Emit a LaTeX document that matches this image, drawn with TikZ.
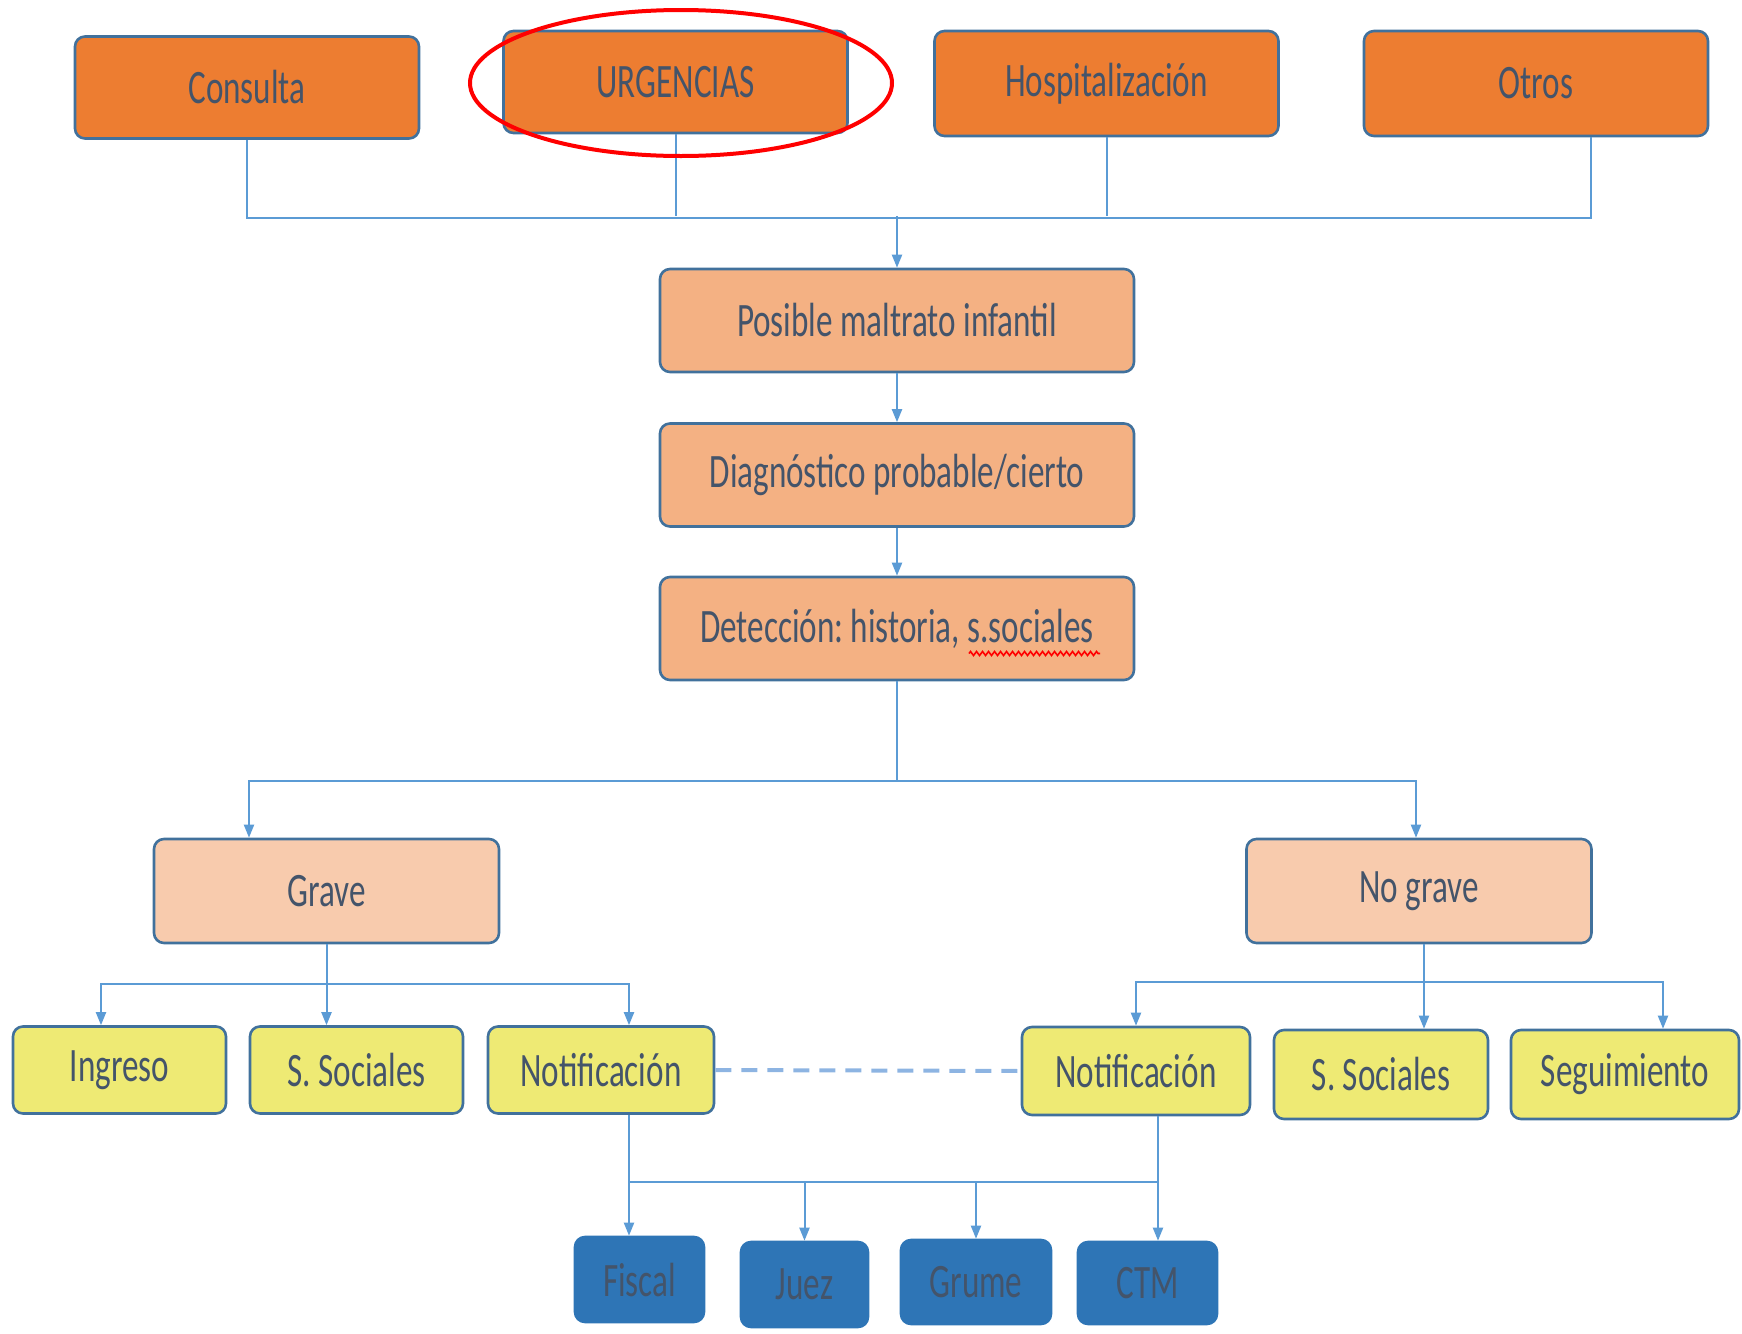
\documentclass[tikz,border=0pt]{standalone}
\usepackage{fontspec}
\setmainfont{Carlito}[FakeStretch=0.69]
\frenchspacing
\usetikzlibrary{arrows.meta,calc,decorations.pathmorphing}
\definecolor{orangeA}{HTML}{ED7D31}
\definecolor{orangeB}{HTML}{F4B183}
\definecolor{peach}{HTML}{F8CBAD}
\definecolor{yell}{HTML}{EEEA74}
\definecolor{blueA}{HTML}{2E75B6}
\definecolor{bord}{HTML}{41719C}
\definecolor{txt}{HTML}{44546A}
\definecolor{linec}{HTML}{5B9BD5}
\definecolor{dashc}{HTML}{8DB4E2}
\begin{document}
\begin{tikzpicture}[x=0.5pt,y=-0.5pt,
  box/.style={draw=bord, line width=1.3pt, rounded corners=5pt, inner sep=0pt,
    text=txt, font=\fontsize{24}{28}\selectfont},
  topbox/.style={box, fill=orangeA, minimum width=172pt, minimum height=51pt},
  midbox/.style={box, fill=orangeB, minimum width=237pt, minimum height=51.5pt},
  sevbox/.style={box, fill=peach, minimum width=172.5pt, minimum height=52pt},
  ybox/.style={box, fill=yell, minimum height=43.5pt},
  bbox/.style={box, fill=blueA, draw=blueA, minimum height=42pt},
  conn/.style={draw=linec, line width=1pt},
  arr/.style={conn, -{Triangle[length=6.5pt,width=5pt]}},
  dashline/.style={draw=dashc, line width=2pt, dash pattern=on 8pt off 5pt}]
\useasboundingbox (0,0) rectangle (1742,1334);
% top row
\node[topbox] (cons) at (247,87.5) {Consulta};
\node[topbox] (urg) at (675.5,82) {URGENCIAS};
\node[topbox, minimum height=52.5pt] (hosp) at (1106.5,83.5) {Hospitalización};
\node[topbox, minimum height=52.5pt] (otros) at (1536,83.5) {Otros};
% middle
\node[midbox] (pos) at (897,320.5) {Posible maltrato infantil};
\node[midbox] (diag) at (897,475) {Diagnóstico probable/cierto};
\node[midbox] (det) at (897,628.5) {Detección: historia, s.sociales};
% severity
\node[sevbox] (grave) at (326.5,891) {Grave};
\node[sevbox] (nograve) at (1419,891) {No grave};
% yellow
\node[ybox, minimum width=106.5pt] (ingreso) at (119.5,1070) {Ingreso};
\node[ybox, minimum width=106.5pt] (ss1) at (356.5,1070) {S. Sociales};
\node[ybox, minimum width=113pt] (not1) at (601,1070) {Notificación};
\node[ybox, minimum width=114pt, minimum height=44pt] (not2) at (1136,1071) {Notificación};
\node[ybox, minimum width=107pt, minimum height=44.5pt] (ss2) at (1381,1074.5) {S. Sociales};
\node[ybox, minimum width=114pt, minimum height=44.5pt] (seg) at (1625,1074.5) {Seguimiento};
% blue
\node[bbox, minimum width=64.5pt, minimum height=42.5pt] (fiscal) at (639.5,1279.5) {Fiscal};
\node[bbox, minimum width=63.5pt, minimum height=42.5pt] (juez) at (804.5,1284.5) {Juez};
\node[bbox, minimum width=75pt] (grume) at (976,1282) {Grume};
\node[bbox, minimum width=69.5pt, minimum height=41pt] (ctm) at (1147.5,1283) {CTM};
% top connectors
\coordinate (b1) at (897,216);
\draw[conn] (cons.south) -- ++(0,78) -| ([xshift=27.5pt]otros.south);
\draw[conn] (urg.south) -- (urg.south |- b1);
\draw[conn] (hosp.south) -- (hosp.south |- b1);
\draw[arr] (b1) -- (pos.north);
\draw[arr] (pos) -- (diag);
\draw[arr] (diag) -- (det);
% to severity
\coordinate (b2) at (897,781);
\draw[conn] (det.south) -- (b2);
\draw[arr] (b2) -| ([xshift=-38.75pt]grave.north);
\draw[arr] (b2) -| ([xshift=-1.5pt]nograve.north);
% grave branches
\draw[conn] (grave.south) -- ++(0,40) coordinate (b3);
\draw[arr] (b3) -| ([xshift=-9.25pt]ingreso.north);
\draw[arr] (b3) -- (b3 |- ss1.north);
\draw[arr] (b3) -| ([xshift=14pt]not1.north);
% no grave branches
\draw[conn] ([xshift=2.5pt]nograve.south) -- ++(0,38) coordinate (b4);
\draw[arr] (b4) -| (not2.north);
\draw[arr] (b4) -- (b4 |- ss2.north);
\draw[arr] (b4) -| ([xshift=19pt]seg.north);
% dashed link
\draw[dashline] (not1.east) -- (not2.west);
% notification targets
\draw[conn] ([xshift=14pt]not1.south) -- ++(0,67) coordinate (b5);
\draw[arr] (b5) -- (b5 |- fiscal.north);
\draw[arr] ([xshift=11pt]not2.south) coordinate (b6) -- (b6 |- ctm.north);
\draw[conn] (b5) -- (b5 -| b6);
\draw[arr] (juez.north |- b5) -- (juez.north);
\draw[arr] (grume.north |- b5) -- (grume.north);
% spell-check underline
\draw[red, line width=0.8pt, decorate, decoration={zigzag, segment length=3pt, amplitude=1pt}]
  ($(det.center)+(72,25)$) -- ($(det.center)+(203,25)$);
% red ellipse
\draw[red, line width=2pt] (681,83) ellipse [x radius=105.5pt, y radius=36.5pt];
\end{tikzpicture}
\end{document}
